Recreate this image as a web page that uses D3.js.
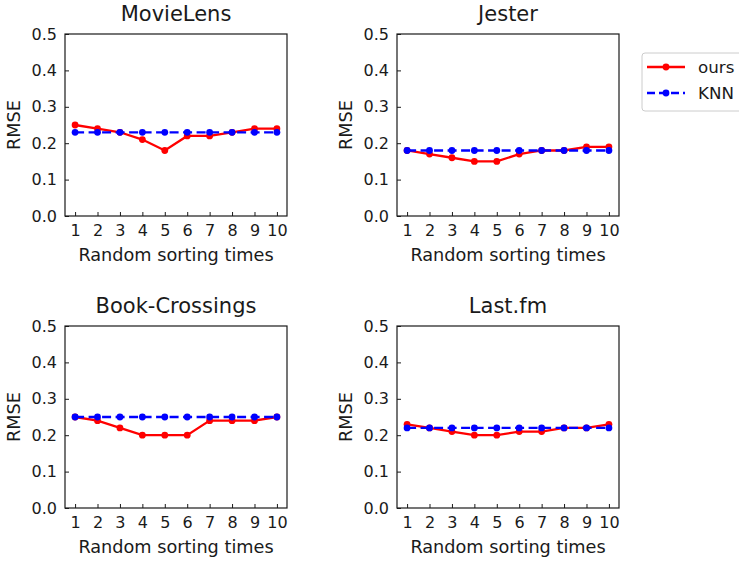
<!DOCTYPE html>
<html>
<head>
<meta charset="utf-8">
<script src="https://cdn.jsdelivr.net/npm/d3@7/dist/d3.min.js"></script>
<style>
  body { margin: 0; background: #fff; }
  svg text { font-family: "DejaVu Sans", sans-serif; fill: #1a1a1a; }
</style>
</head>
<body>
<svg id="chart" width="739" height="561"></svg>
<script>
// random sorting times on the x axis
const times = [1, 2, 3, 4, 5, 6, 7, 8, 9, 10]
const yTicks = [0.0, 0.1, 0.2, 0.3, 0.4, 0.5]

const datasets = ['MovieLens', 'Jester', 'Book-Crossings', 'Last.fm']

const oursMovieLens = [0.25, 0.24, 0.23, 0.21, 0.18, 0.22, 0.22, 0.23, 0.24, 0.24]
const knnMovieLens = [0.23, 0.23, 0.23, 0.23, 0.23, 0.23, 0.23, 0.23, 0.23, 0.23]
const oursJester = [0.18, 0.17, 0.16, 0.15, 0.15, 0.17, 0.18, 0.18, 0.19, 0.19]
const knnJester = [0.18, 0.18, 0.18, 0.18, 0.18, 0.18, 0.18, 0.18, 0.18, 0.18]
const oursBook = [0.25, 0.24, 0.22, 0.20, 0.20, 0.20, 0.24, 0.24, 0.24, 0.25]
const knnBook = [0.25, 0.25, 0.25, 0.25, 0.25, 0.25, 0.25, 0.25, 0.25, 0.25]
const oursLastfm = [0.23, 0.22, 0.21, 0.20, 0.20, 0.21, 0.21, 0.22, 0.22, 0.23]
const knnLastfm = [0.22, 0.22, 0.22, 0.22, 0.22, 0.22, 0.22, 0.22, 0.22, 0.22]

const ours = [oursMovieLens, oursJester, oursBook, oursLastfm]
const knn = [knnMovieLens, knnJester, knnBook, knnLastfm]

const svg = d3.select('#chart')

// panel boxes (left, top)
const boxes = [
  { left: 65, top: 34 },
  { left: 397, top: 34 },
  { left: 65, top: 326 },
  { left: 397, top: 326 }
]
const pw = 222
const ph = 182

const x = d3.scaleLinear().domain([0.55, 10.45]).range([0, pw])
const y = d3.scaleLinear().domain([0, 0.5]).range([ph, 0])

const line = d3.line()
  .x((d, i) => x(times[i]))
  .y(d => y(d))

datasets.forEach((name, k) => {
  const b = boxes[k]
  const g = svg.append('g').attr('transform', `translate(${b.left},${b.top})`)

  const xAxis = g.append('g')
    .attr('transform', `translate(0,${ph})`)
    .call(d3.axisBottom(x).tickValues(times).tickFormat(d3.format('d')).tickSizeInner(-4).tickSizeOuter(0).tickPadding(9))
  xAxis.select('.domain').remove()
  xAxis.selectAll('text').attr('font-size', 16).attr('dy', '0.71em')

  const yAxis = g.append('g')
    .call(d3.axisLeft(y).tickValues(yTicks).tickFormat(d3.format('.1f')).tickSizeInner(-4).tickSizeOuter(0).tickPadding(8))
  yAxis.select('.domain').remove()
  yAxis.selectAll('text').attr('font-size', 16)
  g.selectAll('.tick line').attr('stroke', '#1a1a1a')

  g.append('rect')
    .attr('width', pw).attr('height', ph)
    .attr('fill', 'none').attr('stroke', '#1a1a1a').attr('stroke-width', 1.2)

  g.append('path').datum(ours[k])
    .attr('d', line).attr('fill', 'none')
    .attr('stroke', '#ff0000').attr('stroke-width', 2.3)
  g.selectAll('.dot-ours').data(ours[k]).enter().append('circle')
    .attr('cx', (d, i) => x(times[i])).attr('cy', d => y(d))
    .attr('r', 3.4).attr('fill', '#ff0000')

  g.append('path').datum(knn[k])
    .attr('d', line).attr('fill', 'none')
    .attr('stroke', '#0000ff').attr('stroke-width', 2.3)
    .attr('stroke-dasharray', '9,4.5')
  g.selectAll('.dot-knn').data(knn[k]).enter().append('circle')
    .attr('cx', (d, i) => x(times[i])).attr('cy', d => y(d))
    .attr('r', 3.4).attr('fill', '#0000ff')

  g.append('text')
    .attr('x', pw / 2).attr('y', -13)
    .attr('text-anchor', 'middle').attr('font-size', 21)
    .text(name)

  g.append('text')
    .attr('x', pw / 2).attr('y', ph + 45)
    .attr('text-anchor', 'middle').attr('font-size', 17.7)
    .text('Random sorting times')

  g.append('text')
    .attr('transform', `translate(${-45},${ph / 2}) rotate(-90)`)
    .attr('text-anchor', 'middle').attr('font-size', 17.7)
    .text('RMSE')
})

// legend
const lg = svg.append('g').attr('transform', 'translate(642,53)')
lg.append('rect')
  .attr('width', 110).attr('height', 58).attr('rx', 3)
  .attr('fill', '#fff').attr('stroke', '#cccccc')
const items = [
  { label: 'ours', color: '#ff0000', dash: null },
  { label: 'KNN', color: '#0000ff', dash: '8,4' }
]
items.forEach((it, i) => {
  const yy = 14 + i * 26
  lg.append('line')
    .attr('x1', 5).attr('x2', 43).attr('y1', yy).attr('y2', yy)
    .attr('stroke', it.color).attr('stroke-width', 2.3)
    .attr('stroke-dasharray', it.dash)
  lg.append('circle').attr('cx', 24).attr('cy', yy).attr('r', 3.4).attr('fill', it.color)
  lg.append('text')
    .attr('x', 56).attr('y', yy).attr('dy', '0.35em')
    .attr('font-size', 16.7).text(it.label)
})
</script>
</body>
</html>
